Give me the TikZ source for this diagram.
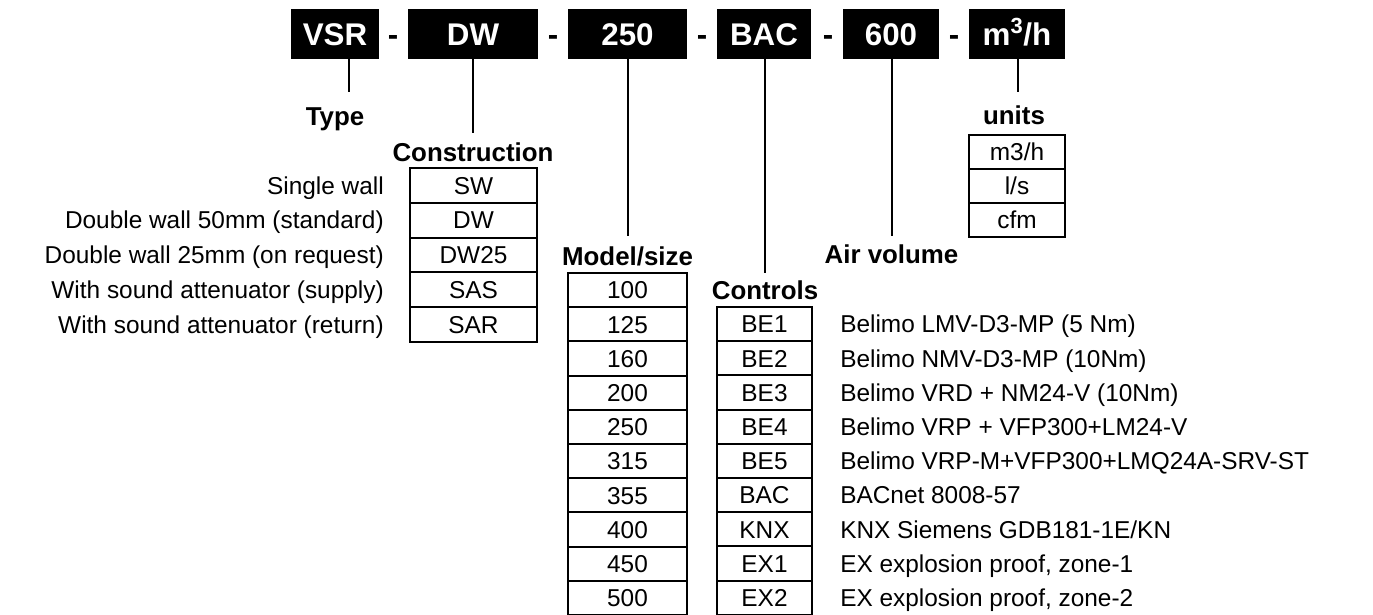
\documentclass[tikz,border=0pt]{standalone}
\usepackage{fontspec}
\setmainfont{Liberation Sans}
\newcommand\hdrfont{\fontsize{23.5}{26}\selectfont\bfseries}
\newcommand\lblfont{\fontsize{19.4}{22}\selectfont\bfseries}
\newcommand\bodyfont{\fontsize{18.3}{20}\selectfont}
\begin{document}
\begin{tikzpicture}[x=0.75pt,y=-0.75pt,
  hdr/.style={fill=black, text=white, font=\hdrfont, inner sep=0pt, minimum height=37.5pt, text height=16.8pt, text depth=0pt},
  hdash/.style={font=\hdrfont, inner sep=0pt, anchor=base},
  cell/.style={draw, line width=1.5pt, inner sep=0pt, font=\bodyfont, text height=13.1pt, text depth=0pt},
  desc/.style={inner sep=0pt, font=\bodyfont, text height=13.1pt, text depth=0pt},
  lbl/.style={font=\lblfont, inner sep=0pt, anchor=base},
  conn/.style={line width=1.5pt}]
\useasboundingbox (0,0) rectangle (1373,614);

% header boxes
\node[hdr, minimum width={88*0.75pt}]  (vsr) at (335,34) {VSR};
\node[hdr, minimum width={130*0.75pt}] (dw)  at (473,34) {DW};
\node[hdr, minimum width={119*0.75pt}] (sz)  at (627.5,34) {250};
\node[hdr, minimum width={94*0.75pt}]  (bac) at (764,34) {BAC};
\node[hdr, minimum width={96*0.75pt}]  (vol) at (891,34) {600};
\node[hdr, minimum width={96*0.75pt}]  (unt) at (1017,34) {m\textsuperscript{3}/h};
\node[hdash] (d1) at (393,45) {-};
\node[hdash] (d2) at (553,45) {-};
\node[hdash] (d3) at (702,45) {-};
\node[hdash] (d4) at (828,45) {-};
\node[hdash] (d5) at (954,45) {-};

% labels
\node[lbl] (ltype) at (335,125) {Type};
\node[lbl] (lcons) at (473,161) {Construction};
\node[lbl] (lmod)  at (627.5,265) {Model/size};
\node[lbl] (lctl)  at (765,299) {Controls};
\node[lbl] (lair)  at (891.5,263) {Air volume};
\node[lbl] (lunit) at (1014,124) {units};

% connectors
\coordinate (ctype) at (349,92);
\coordinate (ccons) at (473,133);
\coordinate (cmod)  at (628,236);
\coordinate (cctl)  at (765,273);
\coordinate (cair)  at (892,236);
\coordinate (cunit) at (1018,92);
\draw[conn] (vsr.south -| ctype) -- (ctype);
\draw[conn] (dw.south -| ccons) -- (ccons);
\draw[conn] (sz.south -| cmod) -- (cmod);
\draw[conn] (bac.south -| cctl) -- (cctl);
\draw[conn] (vol.south -| cair) -- (cair);
\draw[conn] (unt.south -| cunit) -- (cunit);

% construction table
\foreach \c/\t [count=\i from 0] in {SW/{Single wall}, DW/{Double wall 50mm (standard)}, DW25/{Double wall 25mm (on request)}, SAS/{With sound attenuator (supply)}, SAR/{With sound attenuator (return)}}{
  \node[cell, minimum width={127*0.75pt}, minimum height={34.8*0.75pt}] (con\i) at (473.5,{185.4+34.8*\i}) {\c};
  \node[desc, anchor=east] (cond\i) at (384,{185.4+34.8*\i}) {\t};
}

% model/size table
\foreach \m [count=\i from 0] in {100,125,160,200,250,315,355,400,450,500}{
  \node[cell, minimum width={119*0.75pt}, minimum height={34.2*0.75pt}] (mod\i) at (627.5,{290.1+34.2*\i}) {\m};
}

% controls table
\foreach \c/\t [count=\i from 0] in {BE1/{Belimo LMV-D3-MP (5 Nm)}, BE2/{Belimo NMV-D3-MP (10Nm)}, BE3/{Belimo VRD + NM24-V (10Nm)}, BE4/{Belimo VRP + VFP300+LM24-V}, BE5/{Belimo VRP-M+VFP300+LMQ24A-SRV-ST}, BAC/{BACnet 8008-57}, KNX/{KNX Siemens GDB181-1E/KN}, EX1/{EX explosion proof, zone-1}, EX2/{EX explosion proof, zone-2}}{
  \node[cell, minimum width={95*0.75pt}, minimum height={34.2*0.75pt}] (ctl\i) at (764.5,{324.1+34.2*\i}) {\c};
  \node[desc, anchor=west] (ctld\i) at (840,{324.1+34.2*\i}) {\t};
}

% units table
\foreach \u [count=\i from 0] in {m3/h,l/s,cfm}{
  \node[cell, minimum width={96*0.75pt}, minimum height={34*0.75pt}] (un\i) at (1017,{152+34*\i}) {\u};
}
\end{tikzpicture}
\end{document}
